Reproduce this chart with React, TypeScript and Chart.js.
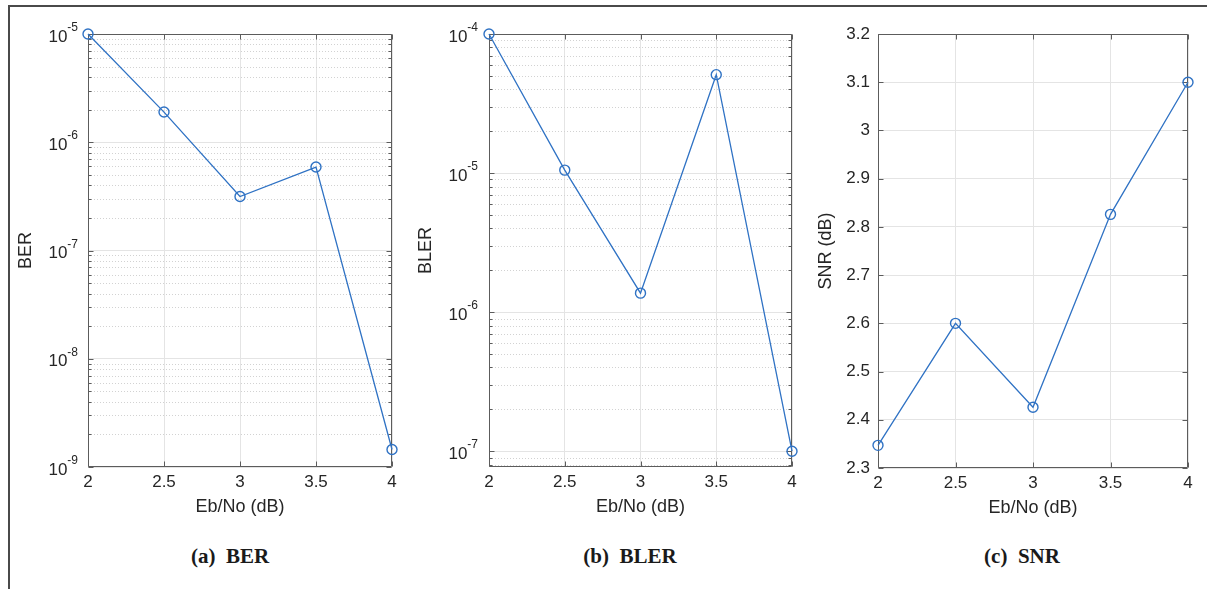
import React, { useEffect, useRef } from "react";
import { Chart, registerables } from "chart.js";

Chart.register(...registerables);

// Eb/No sweep shared by the three panels
const ebNo = [2, 2.5, 3, 3.5, 4];
const xTickValues = [2, 2.5, 3, 3.5, 4];

// (a) bit error rate
const berValues = [1.0e-5, 1.9e-6, 3.15e-7, 5.9e-7, 1.45e-9];
const berDecades = [-9, -8, -7, -6, -5];

// (b) block error rate
const blerValues = [1.0e-4, 1.05e-5, 1.37e-6, 5.1e-5, 1.0e-7];
const blerDecades = [-7, -6, -5, -4];

// (c) signal-to-noise ratio
const snrValues = [2.347, 2.6, 2.426, 2.826, 3.1];
const snrTickValues = [2.3, 2.4, 2.5, 2.6, 2.7, 2.8, 2.9, 3.0, 3.1, 3.2];

const LINE_BLUE = "#2f72c4";
const GRID = "#e4e4e4";
const MINOR_GRID = "#d2d2d2";
const FRAME = "#5c5c5c";
const TEXT = "#262626";
const SANS = "'Liberation Sans', Arial, Helvetica, sans-serif";
const SERIF = "'Liberation Serif', 'Times New Roman', serif";
const TICK_SIZE = 17;
const LABEL_SIZE = 18;

// Box around the plot area, inward tick marks and dotted minor grid on log axes
const axesFrame = {
  id: "axesFrame",
  beforeDatasetsDraw(chart: any) {
    const { ctx, chartArea: a, scales } = chart;
    const xs = scales.x;
    const ys = scales.y;
    const isLog = ys.type === "logarithmic";
    ctx.save();
    ctx.lineWidth = 1;

    const minorValues: number[] = [];
    if (isLog) {
      const lo = Math.floor(Math.log10(ys.min));
      const hi = Math.ceil(Math.log10(ys.max));
      for (let e = lo; e <= hi; e++) {
        for (let k = 2; k <= 9; k++) {
          const v = k * Math.pow(10, e);
          if (v > ys.min && v < ys.max) minorValues.push(v);
        }
      }
      ctx.strokeStyle = MINOR_GRID;
      ctx.setLineDash([1, 2]);
      for (const v of minorValues) {
        const py = Math.round(ys.getPixelForValue(v)) + 0.5;
        ctx.beginPath();
        ctx.moveTo(a.left, py);
        ctx.lineTo(a.right, py);
        ctx.stroke();
      }
      ctx.setLineDash([]);
    }

    ctx.strokeStyle = FRAME;
    const L = Math.round(a.left) + 0.5;
    const R = Math.round(a.right) - 0.5;
    const T = Math.round(a.top) + 0.5;
    const B = Math.round(a.bottom) - 0.5;
    ctx.beginPath();
    ctx.rect(L, T, R - L, B - T);
    ctx.stroke();

    ctx.beginPath();
    for (const t of xs.ticks) {
      const px = Math.round(xs.getPixelForValue(t.value)) + 0.5;
      ctx.moveTo(px, B);
      ctx.lineTo(px, B - 5);
      ctx.moveTo(px, T);
      ctx.lineTo(px, T + 5);
    }
    for (const t of ys.ticks) {
      const py = Math.round(ys.getPixelForValue(t.value)) + 0.5;
      ctx.moveTo(L, py);
      ctx.lineTo(L + 5, py);
      ctx.moveTo(R, py);
      ctx.lineTo(R - 5, py);
    }
    for (const v of minorValues) {
      const py = Math.round(ys.getPixelForValue(v)) + 0.5;
      ctx.moveTo(L, py);
      ctx.lineTo(L + 3, py);
      ctx.moveTo(R, py);
      ctx.lineTo(R - 3, py);
    }
    ctx.stroke();
    ctx.restore();
  },
  // Power-of-ten labels with a raised exponent for log axes
  afterDraw(chart: any) {
    const { ctx, chartArea: a, scales } = chart;
    const ys = scales.y;
    if (ys.type !== "logarithmic") return;
    const pad = chart.options.scales.y.ticks.padding;
    ctx.save();
    ctx.fillStyle = TEXT;
    ctx.textAlign = "right";
    for (const t of ys.ticks) {
      const py = ys.getPixelForValue(t.value);
      const exp = String(Math.round(Math.log10(t.value)));
      const right = a.left - pad;
      ctx.font = `12px ${SANS}`;
      ctx.textBaseline = "alphabetic";
      ctx.fillText(exp, right, py - 3);
      const w = ctx.measureText(exp).width;
      ctx.font = `${TICK_SIZE}px ${SANS}`;
      ctx.textBaseline = "middle";
      ctx.fillText("10", right - w, py + 3);
    }
    ctx.restore();
  },
};

type PanelSpec = {
  left: number;
  width: number;
  height: number;
  yAxisWidth: number;
  padRight: number;
  yTickPad: number;
  yType: "linear" | "logarithmic";
  yMin: number;
  yMax: number;
  yTicks: number[];
  yLabel: string;
  values: number[];
};

function Panel({ spec }: { spec: PanelSpec }) {
  const ref = useRef<HTMLCanvasElement | null>(null);

  useEffect(() => {
    if (!ref.current) return;
    const isLog = spec.yType === "logarithmic";
    const chart = new Chart(ref.current, {
      type: "line",
      data: {
        datasets: [
          {
            data: ebNo.map((x, i) => ({ x, y: spec.values[i] })),
            borderColor: LINE_BLUE,
            borderWidth: 1.3,
            pointStyle: "circle",
            pointRadius: 5,
            pointBorderWidth: 1.4,
            pointBorderColor: LINE_BLUE,
            pointBackgroundColor: "rgba(0,0,0,0)",
            tension: 0,
            fill: false,
            clip: false,
          } as any,
        ],
      },
      options: {
        animation: false,
        responsive: false,
        maintainAspectRatio: false,
        devicePixelRatio: 1,
        layout: { padding: { top: 34, right: spec.padRight, bottom: 0, left: 0 } },
        plugins: {
          legend: { display: false },
          tooltip: { enabled: false },
          title: { display: false },
        },
        scales: {
          x: {
            type: "linear",
            min: 2,
            max: 4,
            afterBuildTicks: (s: any) => {
              s.ticks = xTickValues.map((v) => ({ value: v }));
            },
            afterFit: (s: any) => {
              s.height = 63;
              s.paddingLeft = 0;
              s.paddingRight = 0;
            },
            grid: { color: GRID, drawTicks: false },
            border: { display: false },
            ticks: {
              padding: 5,
              color: TEXT,
              autoSkip: false,
              maxRotation: 0,
              font: { family: SANS, size: TICK_SIZE },
              callback: (v: any) => String(v),
            },
            title: {
              display: true,
              text: "Eb/No (dB)",
              color: TEXT,
              font: { family: SANS, size: LABEL_SIZE },
              padding: { top: 0, bottom: 12 },
            },
          },
          y: {
            type: spec.yType,
            min: spec.yMin,
            max: spec.yMax,
            afterBuildTicks: (s: any) => {
              s.ticks = spec.yTicks.map((v) => ({ value: v }));
            },
            afterFit: (s: any) => {
              s.width = spec.yAxisWidth;
              s.paddingTop = 0;
              s.paddingBottom = 0;
            },
            grid: { color: GRID, drawTicks: false },
            border: { display: false },
            ticks: {
              display: !isLog,
              padding: spec.yTickPad,
              color: TEXT,
              autoSkip: false,
              font: { family: SANS, size: TICK_SIZE },
              callback: (v: any) => String(Math.round(Number(v) * 10) / 10),
            },
            title: {
              display: true,
              text: spec.yLabel,
              color: TEXT,
              font: { family: SANS, size: LABEL_SIZE },
              padding: { top: 5, bottom: 0 },
            },
          } as any,
        },
      },
      plugins: [axesFrame],
    });
    return () => chart.destroy();
  }, [spec]);

  return (
    <canvas
      ref={ref}
      width={spec.width}
      height={spec.height}
      style={{
        position: "absolute",
        left: spec.left,
        top: 0,
        width: spec.width,
        height: spec.height,
      }}
    />
  );
}

const panels: PanelSpec[] = [
  {
    left: 10,
    width: 400,
    height: 530,
    yAxisWidth: 78,
    padRight: 18,
    yTickPad: 10,
    yType: "logarithmic",
    yMin: 1e-9,
    yMax: 1e-5,
    yTicks: berDecades.map((e) => Math.pow(10, e)),
    yLabel: "BER",
    values: berValues,
  },
  {
    left: 410,
    width: 400,
    height: 530,
    yAxisWidth: 79,
    padRight: 18,
    yTickPad: 11,
    yType: "logarithmic",
    yMin: 7.7e-8,
    yMax: 1e-4,
    yTicks: blerDecades.map((e) => Math.pow(10, e)),
    yLabel: "BLER",
    values: blerValues,
  },
  {
    left: 810,
    width: 397,
    height: 531,
    yAxisWidth: 68,
    padRight: 19,
    yTickPad: 8,
    yType: "linear",
    yMin: 2.3,
    yMax: 3.2,
    yTicks: snrTickValues,
    yLabel: "SNR (dB)",
    values: snrValues,
  },
];

const captions = [
  { text: "(a)  BER", x: 230 },
  { text: "(b)  BLER", x: 630 },
  { text: "(c)  SNR", x: 1022 },
];

export default function App() {
  return (
    <div
      style={{
        position: "fixed",
        left: 0,
        top: 0,
        width: 1207,
        height: 589,
        background: "#ffffff",
        overflow: "hidden",
      }}
    >
      <div style={{ position: "absolute", left: 8, top: 5, width: 1199, height: 2, background: "#4a4a4a" }} />
      <div style={{ position: "absolute", left: 8, top: 5, width: 2, height: 584, background: "#4a4a4a" }} />
      {panels.map((p, i) => (
        <Panel key={i} spec={p} />
      ))}
      {captions.map((c, i) => (
        <div
          key={i}
          style={{
            position: "absolute",
            left: c.x - 100,
            width: 200,
            top: 542,
            textAlign: "center",
            whiteSpace: "pre",
            fontFamily: SERIF,
            fontWeight: "bold",
            fontSize: 21,
            lineHeight: "28px",
            color: "#1a1a1a",
          }}
        >
          {c.text}
        </div>
      ))}
    </div>
  );
}
